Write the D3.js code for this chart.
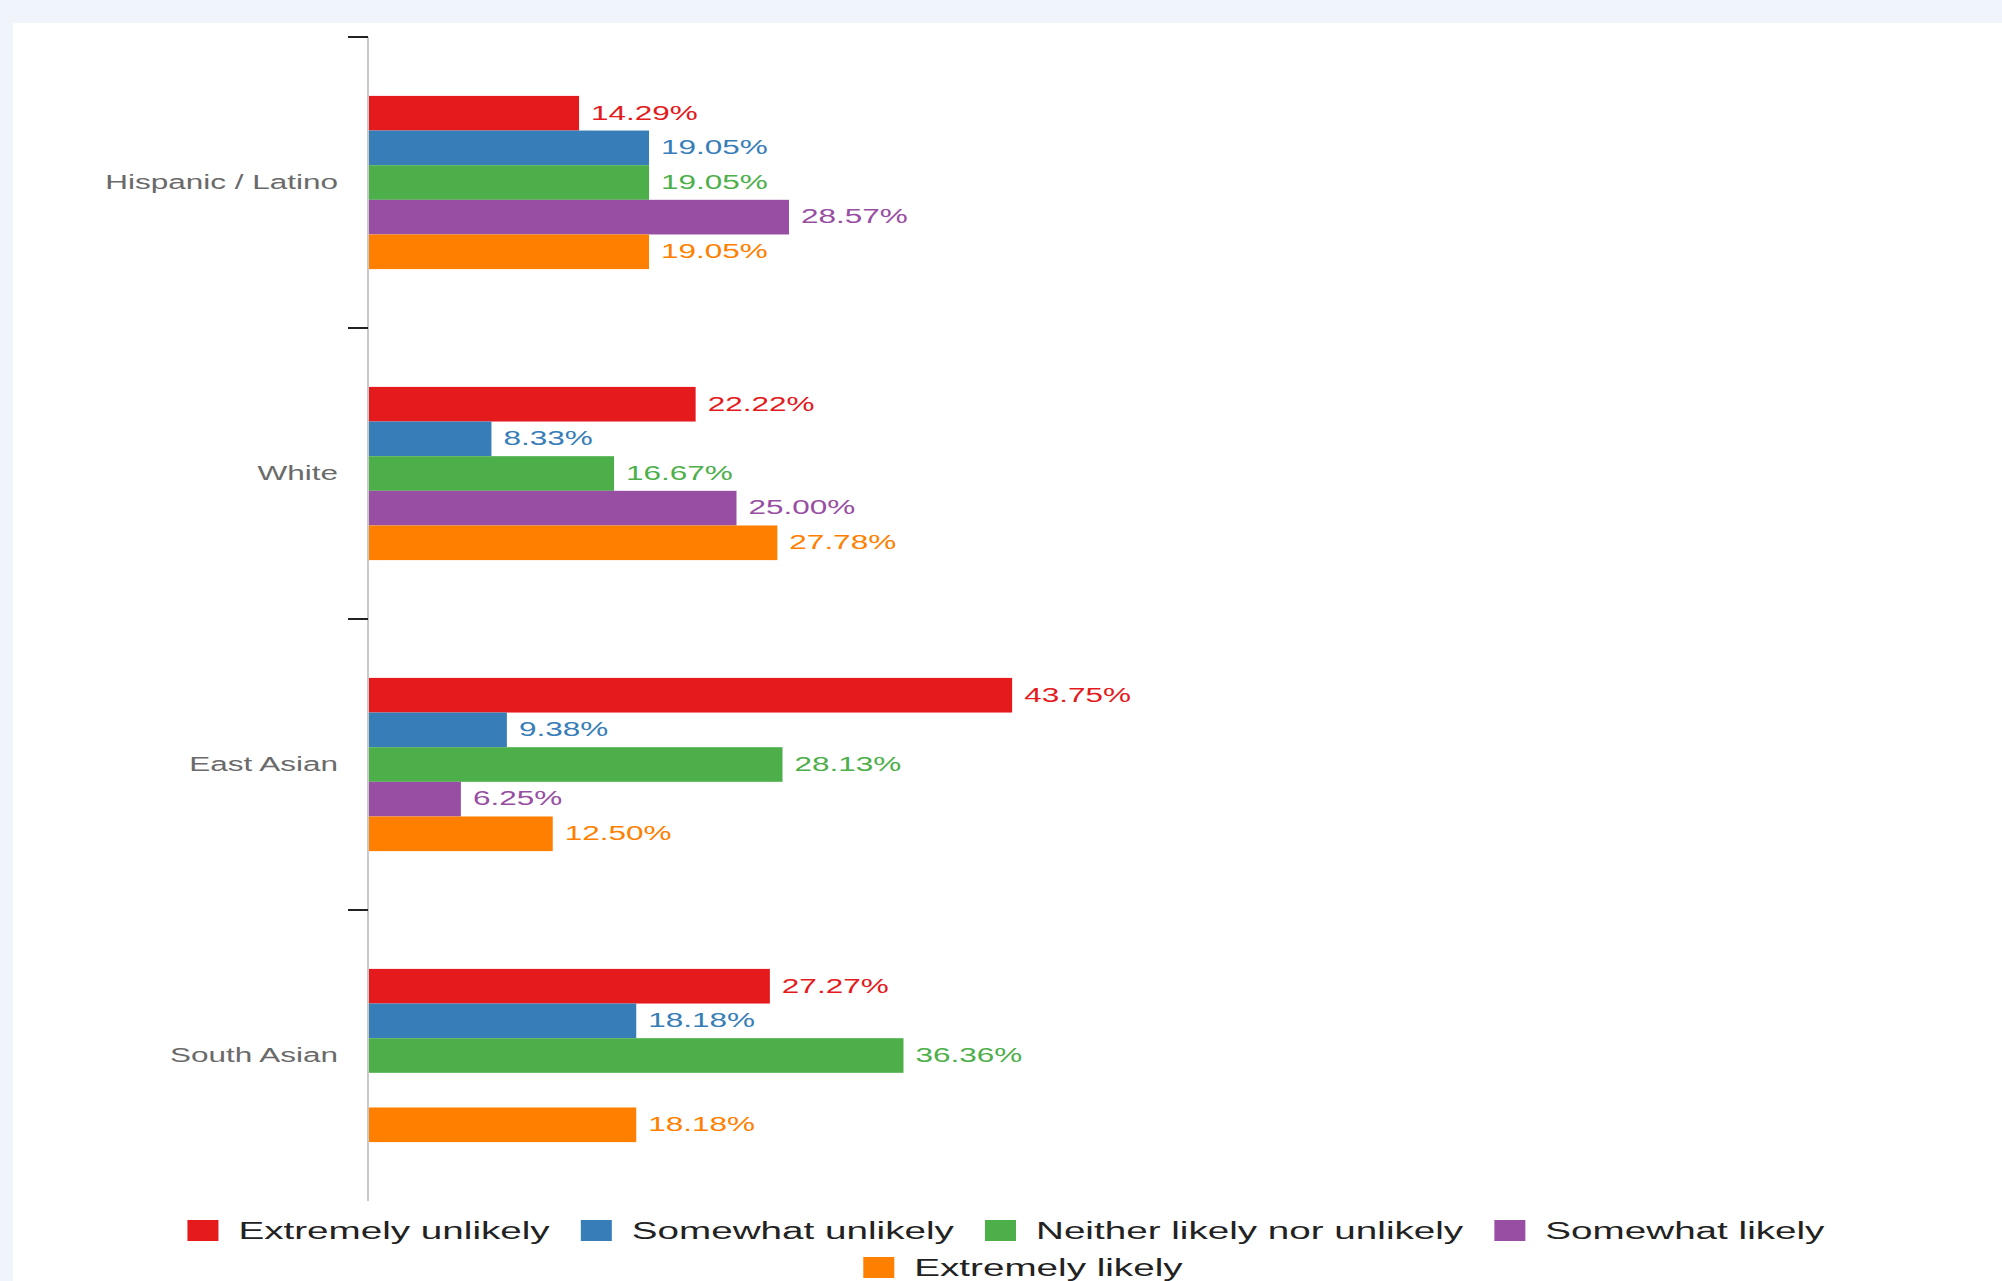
<!DOCTYPE html>
<html>
<head>
<meta charset="utf-8">
<script src="https://cdn.jsdelivr.net/npm/d3@7"></script>
<style>
  html, body { margin: 0; padding: 0; background: #f0f4fb; }
  svg { display: block; }
  text { font-family: "Liberation Sans", Arial, Helvetica, sans-serif; }
</style>
</head>
<body>
<script>
// Groups on the vertical axis
const categories = ["Hispanic / Latino", "White", "East Asian", "South Asian"];

// Answer options, in the order the bars are stacked inside each group
const seriesNames = [
  "Extremely unlikely",
  "Somewhat unlikely",
  "Neither likely nor unlikely",
  "Somewhat likely",
  "Extremely likely"
];

// Percent of respondents per group, one array per answer option
const extremelyUnlikely = [14.29, 22.22, 43.75, 27.27];
const somewhatUnlikely  = [19.05, 8.33, 9.38, 18.18];
const neitherLikely     = [19.05, 16.67, 28.13, 36.36];
const somewhatLikely    = [28.57, 25.00, 6.25, 0];
const extremelyLikely   = [19.05, 27.78, 12.50, 18.18];

const seriesColors = ["#e41a1c", "#377eb8", "#4daf4a", "#984ea3", "#ff7f00"];

const seriesValues = [extremelyUnlikely, somewhatUnlikely, neitherLikely, somewhatLikely, extremelyLikely];

const W = 2002, H = 1281;
const svg = d3.select("body").append("svg").attr("width", W).attr("height", H);

// page background and white chart panel
svg.append("rect").attr("x", 0).attr("y", 0).attr("width", W).attr("height", H).attr("fill", "#f0f4fb");
svg.append("rect").attr("x", 13).attr("y", 23).attr("width", W - 13).attr("height", H - 23).attr("fill", "#ffffff");

// scales
const x = d3.scaleLinear().domain([0, 100]).range([369, 1839]);
const y0 = d3.scaleBand().domain(categories).range([37, 1201]);
const y1 = d3.scaleBand().domain(seriesNames).range([0, y0.bandwidth()]).paddingInner(0).paddingOuter(1.7);
const color = d3.scaleOrdinal().domain(seriesNames).range(seriesColors);

// text is drawn wide: each label is scaled horizontally around its anchor
const LABEL_SX = 1.5;
const LEGEND_SX = 1.68;

// flat records for the bars
const records = [];
categories.forEach((c, ci) => {
  seriesNames.forEach((s, si) => {
    records.push({ category: c, series: s, value: seriesValues[si][ci] });
  });
});

// axis line and ticks at the group boundaries
const axisX = x(0) - 1;
svg.append("line")
  .attr("x1", axisX).attr("x2", axisX)
  .attr("y1", y0.range()[0]).attr("y2", y0.range()[1])
  .attr("stroke", "#c9c9c9").attr("stroke-width", 2);

svg.append("g").selectAll("line")
  .data(categories)
  .join("line")
  .attr("x1", axisX - 20).attr("x2", axisX)
  .attr("y1", d => y0(d)).attr("y2", d => y0(d))
  .attr("stroke", "#222").attr("stroke-width", 2);

// category labels
svg.append("g").selectAll("text")
  .data(categories)
  .join("text")
  .attr("transform", d => `translate(${axisX - 30},${y0(d) + y0.bandwidth() / 2}) scale(${LABEL_SX},1)`)
  .attr("text-anchor", "end")
  .attr("dy", "0.3em")
  .attr("font-size", 21)
  .attr("fill", "#6a6a6a")
  .text(d => d);

// bars
const groups = svg.append("g").selectAll("g")
  .data(categories)
  .join("g")
  .attr("transform", d => `translate(0,${y0(d)})`);

groups.selectAll("rect")
  .data(c => records.filter(r => r.category === c && r.value > 0))
  .join("rect")
  .attr("x", x(0))
  .attr("y", d => y1(d.series))
  .attr("width", d => x(d.value) - x(0))
  .attr("height", y1.bandwidth())
  .attr("fill", d => color(d.series));

// value labels
groups.selectAll("text")
  .data(c => records.filter(r => r.category === c && r.value > 0))
  .join("text")
  .attr("transform", d => `translate(${x(d.value) + 12},${y1(d.series) + y1.bandwidth() / 2}) scale(${LABEL_SX},1)`)
  .attr("dy", "0.3em")
  .attr("font-size", 21)
  .attr("fill", d => color(d.series))
  .text(d => d.value.toFixed(2) + "%");

// legend, wrapped into rows
const legend = svg.append("g");
const swatchW = 31, swatchH = 21, textGap = 20, itemGap = 31, maxRow = 1700;
const rowCenters = [1006, 1023];
const items = seriesNames.map(s => {
  const t = legend.append("text")
    .attr("font-size", 23)
    .attr("fill", "#222")
    .text(s);
  const tw = t.node().getComputedTextLength() * LEGEND_SX;
  return { name: s, node: t, w: swatchW + textGap + tw };
});
const rows = [];
let cur = [], curW = 0;
items.forEach(it => {
  const add = (cur.length ? itemGap : 0) + it.w;
  if (cur.length && curW + add > maxRow) { rows.push({ items: cur, w: curW }); cur = []; curW = 0; }
  curW += (cur.length ? itemGap : 0) + it.w;
  cur.push(it);
});
if (cur.length) rows.push({ items: cur, w: curW });

rows.forEach((row, ri) => {
  let lx = rowCenters[Math.min(ri, rowCenters.length - 1)] - row.w / 2;
  const top = 1220 + ri * 37;
  row.items.forEach(it => {
    legend.append("rect")
      .attr("x", lx).attr("y", top)
      .attr("width", swatchW).attr("height", swatchH)
      .attr("fill", color(it.name));
    it.node.attr("transform", `translate(${lx + swatchW + textGap},${top + swatchH - 2}) scale(${LEGEND_SX},1)`);
    lx += it.w + itemGap;
  });
});
</script>
</body>
</html>
